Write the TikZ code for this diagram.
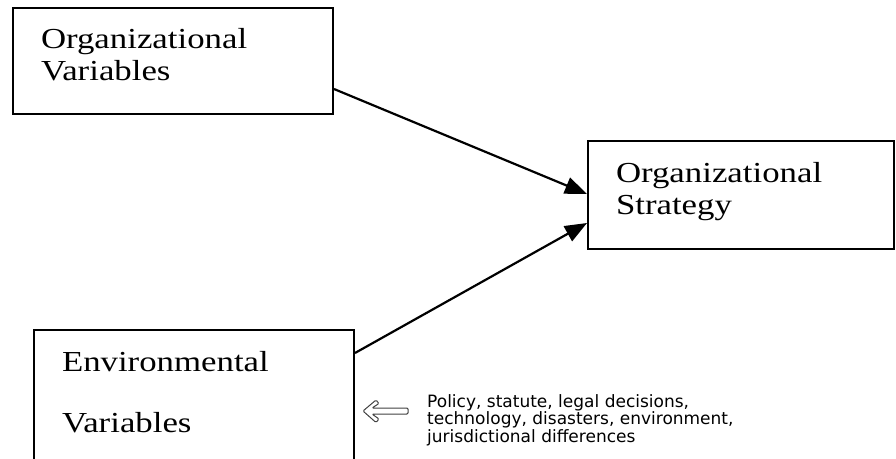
\documentclass[tikz,border=0pt]{standalone}
\usepackage{fontspec}
\usepackage{xcolor}
\usepackage{tikz}
\usetikzlibrary{arrows.meta}
\setmainfont{Liberation Serif}
\newfontfamily\boxfont[FakeStretch=1.2]{Liberation Serif}
\newfontfamily\notefont{DejaVu Sans}

\begin{document}
\begin{tikzpicture}[x=1pt, y=-1pt,
	varbox/.style={draw, line width=2pt, anchor=north west, align=left, inner xsep=28pt, inner ysep=0pt, font={\boxfont\fontsize{29}{32}\selectfont}},
	link/.style={line width=2.2pt, -{Triangle[length=22pt, width=17pt]}}]
	\useasboundingbox (0,0) rectangle (896,458);
	\clip (0,0) rectangle (896,458);
	\node[varbox, text width=264pt, minimum height=106pt] (orgvar) at (12,7) {Organizational\\Variables\rule[-13pt]{0pt}{13pt}};
	\node[varbox, text width=250pt, minimum height=108pt] (strategy) at (587,140) {Organizational\\Strategy\rule[-13pt]{0pt}{13pt}};
	\node[varbox, text width=264pt, minimum height=136pt, font={\boxfont\fontsize{29}{61}\selectfont}] (envvar) at (33,329) {Environmental\\Variables\rule[-13pt]{0pt}{13pt}};
	\draw[link] ([yshift=-28pt]orgvar.east) -- ([yshift=1pt]strategy.west);
	\draw[link] ([yshift=-24pt]envvar.north east) -- ([yshift=-28pt]strategy.west);
	\node[anchor=north west, inner sep=0pt, align=left, font={\notefont\fontsize{17}{17.5}\selectfont}] (causes) at (427,394) {Policy, statute, legal decisions,\\technology, disasters, environment,\\jurisdictional differences};
	\draw[line width=1pt, black!75, rounded corners=1.2pt] (363,411) -- (376,400) -- (379,403.5) -- (372,408) -- (408,408) -- (408,414) -- (372,414) -- (379,419) -- (376,422.5) -- cycle;
\end{tikzpicture}
\end{document}
